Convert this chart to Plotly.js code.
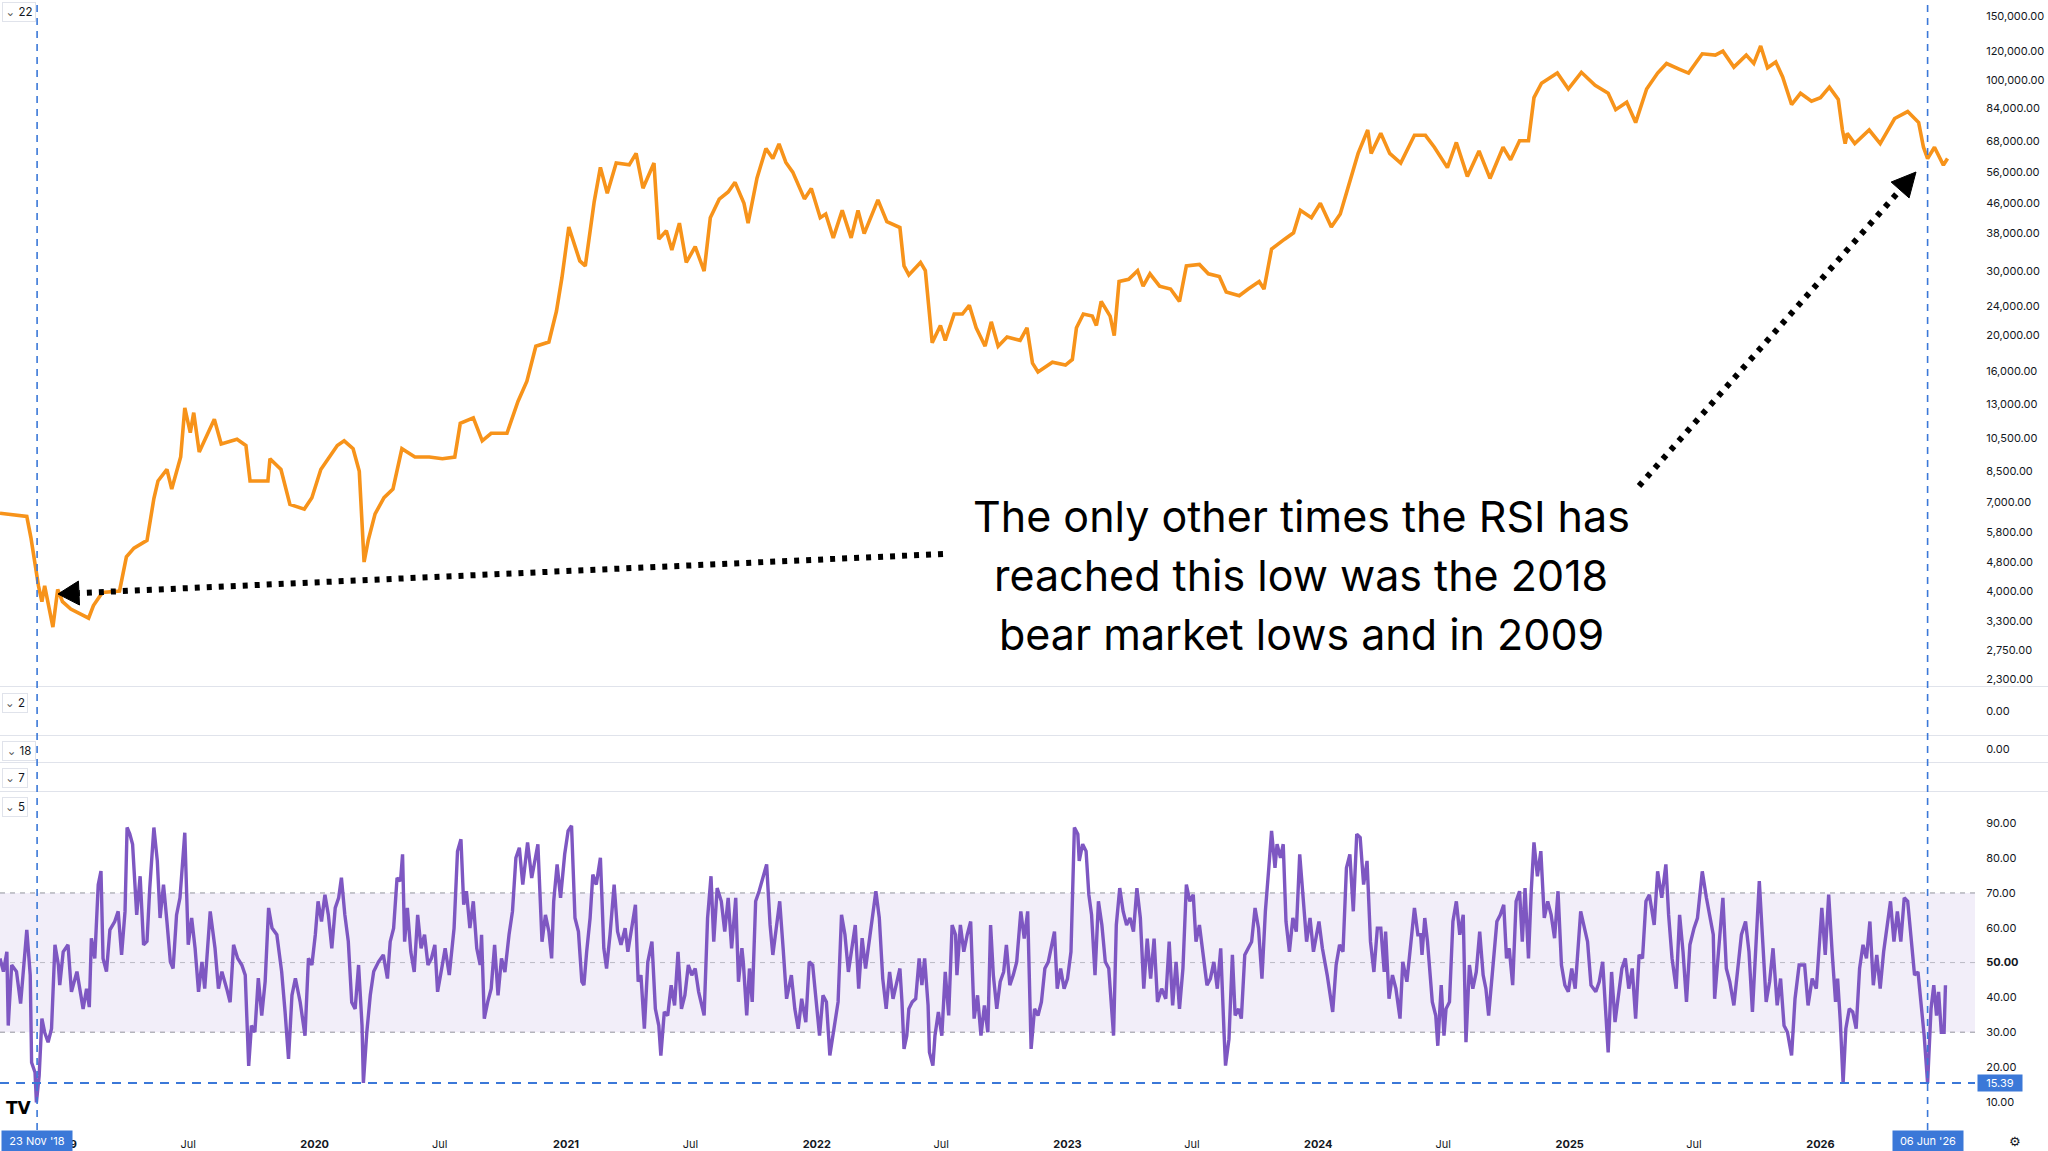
<!DOCTYPE html>
<html><head><meta charset="utf-8">
<script src="https://cdn.plot.ly/plotly-3.0.1.min.js"></script>
<style>html,body{margin:0;padding:0;background:#fff;overflow:hidden}#chart{width:2048px;height:1151px}</style>
</head><body><div id="chart"></div>
<script>
// ---------- DATA ----------
const priceDate = ['2018-09-30','2018-11-08','2018-11-14','2018-11-21','2018-11-25','2018-11-30','2018-12-04','2018-12-16','2018-12-23','2018-12-30',
'2019-01-11','2019-02-06','2019-02-13','2019-02-26','2019-03-23','2019-04-02','2019-04-13','2019-05-02','2019-05-12','2019-05-18','2019-05-31','2019-06-07','2019-06-20','2019-06-26','2019-07-04','2019-07-09','2019-07-17','2019-08-08','2019-08-18','2019-09-10','2019-09-23','2019-09-29','2019-10-25','2019-10-28','2019-11-13','2019-11-26','2019-12-17','2019-12-28',
'2020-01-10','2020-02-03','2020-02-13','2020-02-26','2020-03-06','2020-03-13','2020-03-19','2020-03-29','2020-04-11','2020-04-24','2020-05-07','2020-05-26','2020-06-16','2020-07-05','2020-07-23','2020-07-31','2020-08-19','2020-09-01','2020-09-14','2020-10-07','2020-10-23','2020-11-05','2020-11-18','2020-12-07','2020-12-18','2020-12-26',
'2021-01-05','2021-01-21','2021-01-29','2021-02-11','2021-02-20','2021-03-02','2021-03-15','2021-04-03','2021-04-13','2021-04-23','2021-05-09','2021-05-16','2021-05-27','2021-06-04','2021-06-15','2021-06-25','2021-07-08','2021-07-21','2021-07-30','2021-08-12','2021-08-25','2021-09-04','2021-09-17','2021-09-23','2021-10-06','2021-10-19','2021-10-29','2021-11-07','2021-11-17','2021-11-27','2021-12-08','2021-12-14','2021-12-24',
'2022-01-06','2022-01-14','2022-01-25','2022-02-07','2022-02-20','2022-03-02','2022-03-11','2022-03-31','2022-04-13','2022-05-02','2022-05-08','2022-05-15','2022-06-01','2022-06-08','2022-06-14','2022-06-18','2022-06-30','2022-07-07','2022-07-20','2022-08-01','2022-08-11','2022-08-21','2022-09-03','2022-09-12','2022-09-22','2022-10-05','2022-10-24','2022-11-03','2022-11-11','2022-11-19','2022-12-10','2022-12-29',
'2023-01-08','2023-01-14','2023-01-24','2023-02-06','2023-02-12','2023-02-19','2023-03-04','2023-03-10','2023-03-17','2023-03-31','2023-04-13','2023-04-21','2023-05-01','2023-05-15','2023-05-31','2023-06-13','2023-06-23','2023-07-12','2023-07-25','2023-08-10','2023-08-20','2023-09-08','2023-09-21','2023-10-07','2023-10-14','2023-10-25','2023-11-13','2023-11-26','2023-12-06','2023-12-22',
'2024-01-04','2024-01-20','2024-02-02','2024-02-15','2024-02-28','2024-03-13','2024-03-18','2024-04-01','2024-04-14','2024-04-30','2024-05-20','2024-06-05','2024-06-18','2024-07-07','2024-07-20','2024-08-05','2024-08-22','2024-09-07','2024-09-26','2024-10-07','2024-10-20','2024-11-02','2024-11-10','2024-11-21','2024-12-14','2024-12-30',
'2025-01-18','2025-02-07','2025-02-26','2025-03-09','2025-03-25','2025-04-07','2025-04-23','2025-05-09','2025-05-22','2025-06-10','2025-06-23','2025-07-13','2025-08-01','2025-08-12','2025-08-28','2025-09-15','2025-09-26','2025-10-06','2025-10-16','2025-10-28','2025-11-07','2025-11-20','2025-12-03','2025-12-19',
'2026-01-01','2026-01-14','2026-01-27','2026-02-02','2026-02-06','2026-02-09','2026-02-20','2026-03-13','2026-03-29','2026-04-19','2026-05-08','2026-05-24','2026-05-31','2026-06-06','2026-06-16','2026-06-29','2026-07-05'];
const priceValue = [6530,6400,5600,4500,4130,3740,4130,3185,4040,3740,
3570,3370,3650,3960,4000,4960,5240,5500,7160,8000,8600,7600,9300,12670,10850,12300,9600,11800,10100,10400,10000,8000,8000,9200,8600,6900,6700,7200,
8600,10000,10300,9800,8500,4800,5500,6500,7200,7600,9800,9300,9300,9200,9300,11500,11900,10300,10800,10800,13200,15000,18700,19200,23300,28800,
39600,32000,31000,46500,57700,49000,59300,58600,63000,50600,59300,36700,38700,34300,40600,31700,35000,30000,42000,47200,49400,52500,46000,40600,54000,65000,61000,66900,59500,56000,50500,47300,50500,
42000,43000,37000,44000,37000,44000,38000,47000,41000,39500,31000,29300,31700,30100,22600,19100,21300,19400,22900,22900,24200,21000,18700,21800,18700,19800,19400,21000,16800,15900,16900,16600,
17200,21000,22900,22600,21300,24800,22600,20000,28100,28500,30100,27300,29500,27300,26800,24800,31000,31300,29500,29000,26300,25700,26800,28100,26800,34500,36700,38200,44000,42000,
46000,39600,43000,52000,63000,73000,63000,71500,63000,59300,70600,70600,65500,57600,67500,54500,64000,53800,65500,60500,68200,68200,89500,98000,104500,94500,
105000,96700,92000,83000,87000,76500,94500,104500,111000,107000,104500,118000,117000,120000,108500,117000,111000,124000,108000,112000,102000,85700,92000,87500,
89500,95600,88500,73000,67000,71500,67000,73000,67000,78500,82000,76500,65500,61000,65500,58500,61000];

const rsiBaseDate = '2019-01-01'; // rsiDay = days counted from this date
const rsiDay = [-93,-88,-83,-81,-76,-69,-63,-59,-54,-49,-47,-42,-40,-36,-32,-28,-23,-18,-13,-8,-6,-1,
6,11,19,28,33,37,40,45,50,54,57,62,67,74,79,84,89,92,96,100,104,106,111,116,121,125,131,136,140,145,150,155,159,164,169,173,176,181,186,191,196,201,205,213,220,225,230,237,242,247,253,259,264,269,273,278,283,288,293,298,303,310,317,322,327,332,337,344,351,356,361,
366,370,375,380,385,390,395,400,404,409,414,419,424,429,434,436,441,446,451,458,
465,471,475,480,485,490,493,496,500,505,510,515,520,525,530,535,540,544,550,555,561,568,573,578,582,586,591,596,601,606,608,612,617,622,627,632,637,642,648,653,658,663,668,675,681,686,690,696,701,706,710,713,718,723,729,
734,739,744,749,754,757,761,766,770,775,781,786,790,795,801,806,811,817,821,827,832,836,840,845,850,856,861,866,869,874,879,884,889,894,899,904,909,914,919,924,932,937,942,946,951,957,962,967,972,978,982,987,989,994,998,1002,1007,1012,1017,1023,1028,1032,1037,1042,1047,1052,1059,1064,1069,1074,1080,1085,1090,
1095,1100,1105,1110,1115,1120,1127,1132,1137,1142,1147,1152,1157,1162,1167,1172,1177,1182,1187,1192,1197,1202,1207,1212,
1217,1220,1223,1227,1230,1235,1240,1245,1249,1253,1258,1260,1265,1268,1273,1278,1283,1288,1293,1298,1300,1305,1310,1315,1320,1325,1330,1335,1340,1345,1349,1353,1358,1363,1368,1372,1377,1382,1387,1393,1398,1403,1408,1413,1418,1423,1428,1433,1442,1446,1451,1456,
1461,1466,1471,1476,1478,1483,1488,1492,1496,1501,1506,1511,1516,1521,1528,1532,1537,1542,1547,1552,1557,1562,1567,1572,1577,1582,1587,1592,1598,1604,1609,1614,1619,1624,1629,1634,1639,1644,1648,1653,1659,1664,1669,1674,1679,1684,1689,1691,1696,1701,1705,1710,1714,1719,1724,1729,1734,1739,1744,1749,1754,1758,1763,1766,1771,1775,1779,1784,1789,1794,1799,1804,1809,1814,1819,
1827,1832,1839,1847,1852,1857,1862,1867,1872,1877,1882,1887,1892,1897,1902,1907,1912,1917,1922,1924,1929,1934,1939,1945,1949,1955,1960,1966,1971,
1975,1977,1981,1985,1989,1992,1997,2000,2005,2009,2012,2017,2022,2027,2032,2037,2041,2046,2051,2056,2061,2066,2070,2074,2080,2086,2091,2096,2100,2104,2109,2114,2119,2123,2127,2132,2136,2140,2145,2150,2155,2160,2165,2170,2175,2180,2185,2190,
2195,2200,2208,2213,2218,2223,2230,2235,2240,2248,2253,2258,2263,2268,2273,2278,2283,2288,2293,2298,2303,2308,2315,2320,2326,2332,2336,2341,2347,2352,2357,2362,2367,2373,2378,2385,2391,2396,2401,2403,2410,2415,2420,2425,2431,2436,2442,2448,2453,2458,2463,2468,2473,2478,2483,2488,2494,2499,2504,2509,2515,2520,2526,2534,2539,2545,2551,
2559,2564,2569,2574,2579,2582,2586,2590,2594,2599,2604,2609,2614,2619,2624,2629,2634,2639,2644,2649,2654,2659,2664,2669,2674,2679,2684,2689,2694,2699,2704,2708,2713,2716,2718,2722,2726,2729,2733,2737,2739];
const rsiValue = [51.2,47.4,53.1,31.9,49.3,47.4,38.2,47.4,59.4,46.4,21.3,18.4,9.8,17.5,33.9,30.0,27.1,31.0,55.1,49.3,43.5,53.1,
55.1,41.6,47.4,36.7,42.5,37.2,57.0,51.2,72.4,76.3,51.2,47.4,59.4,61.8,64.7,52.2,64.7,88.8,86.9,84.0,67.6,63.7,74.8,55.1,56.1,71.4,88.8,79.2,62.8,72.4,61.8,50.2,48.3,63.7,68.6,78.2,87.3,55.1,62.8,54.1,41.6,50.2,42.5,64.7,54.1,42.5,47.4,42.5,38.6,55.1,51.2,49.3,46.4,20.3,31.9,30.0,45.5,34.8,44.6,65.7,59.9,58.0,47.4,35.8,22.3,40.6,45.5,38.6,29.0,51.2,49.3,
58.0,67.6,61.8,69.5,63.7,54.1,65.7,68.6,74.4,63.7,56.1,38.6,36.7,49.3,31.9,15.4,30.0,40.6,47.4,50.2,
52.2,45.4,56.0,59.9,74.3,73.4,81.1,56.0,65.7,53.1,47.3,63.7,54.1,58.0,49.3,51.2,55.1,41.6,48.3,54.1,46.4,59.9,82.0,85.4,66.6,70.5,59.9,67.6,54.1,49.3,58.0,33.9,38.7,42.5,55.1,40.6,51.2,47.3,58.0,64.7,80.1,83.0,72.4,84.5,74.3,80.1,84.0,56.0,63.7,58.9,51.2,67.6,78.2,68.6,81.1,
87.8,89.3,62.8,58.9,44.5,43.5,53.1,62.8,75.3,72.4,80.1,54.1,48.3,58.0,72.4,58.9,55.1,59.9,53.1,60.8,66.6,44.5,46.4,31.0,50.2,56.0,36.7,31.9,23.3,35.8,34.8,43.5,37.7,53.1,36.7,40.6,49.3,46.4,48.3,41.6,34.8,62.8,74.8,56.0,71.4,67.6,58.9,68.6,54.1,68.6,44.5,54.1,50.2,34.8,48.3,38.7,67.6,70.5,74.3,78.2,60.8,52.2,59.9,67.6,54.1,39.6,46.4,36.7,31.0,39.6,32.9,50.2,49.3,
38.7,29.0,40.6,38.7,23.3,30.0,38.7,63.7,58.0,47.3,54.1,60.8,42.5,57.0,48.3,56.0,61.8,70.5,62.8,45.4,36.7,47.3,39.6,44.5,
48.3,38.7,25.2,29.0,36.7,38.7,39.6,51.2,43.5,51.2,37.7,24.2,20.4,29.0,35.8,29.0,47.3,34.8,60.8,58.0,46.4,60.8,53.1,58.0,61.8,33.9,40.6,29.0,37.7,30.0,60.8,46.4,36.7,44.5,47.3,55.1,43.5,46.4,50.2,64.7,56.9,64.7,25.2,36.7,34.8,38.7,48.3,50.2,58.9,42.5,48.3,42.5,
45.4,53.1,88.8,86.9,79.2,84.0,82.0,69.5,63.7,46.4,67.6,60.8,50.2,48.3,29.0,60.8,71.4,64.7,60.8,62.8,58.9,71.4,62.8,42.5,56.9,45.4,56.9,38.7,42.5,39.6,56.0,37.7,50.2,36.7,48.3,72.4,67.6,69.5,56.0,60.8,51.2,43.5,45.4,50.2,42.5,54.1,29.0,20.4,28.0,52.2,34.8,36.7,33.9,52.2,54.1,56.0,65.7,59.9,45.4,64.7,77.2,87.8,77.2,84.0,80.1,84.0,61.8,53.1,62.8,58.9,81.1,67.6,56.0,62.8,53.1,
61.8,54.1,46.4,35.8,49.3,55.1,53.1,77.2,81.1,64.7,86.9,85.9,72.4,79.2,56.0,47.3,59.9,59.9,47.3,58.9,39.6,46.4,42.5,33.9,50.2,44.5,54.1,65.7,58.0,
58.0,52.2,62.8,56.0,44.5,38.7,34.8,26.1,43.5,29.0,36.7,38.7,61.8,67.6,58.0,63.7,27.1,49.3,42.5,47.3,58.9,46.4,42.5,34.8,48.3,61.8,63.7,66.6,51.2,54.1,43.5,67.6,70.5,56.0,71.4,51.2,70.5,84.5,74.8,82.0,62.8,67.6,63.7,57.0,70.5,49.3,43.5,41.6,
48.3,42.5,64.7,59.9,56.0,43.5,41.6,44.5,50.2,24.2,47.3,32.9,40.6,48.3,51.2,42.5,48.3,33.9,52.2,51.2,67.6,69.5,60.8,76.2,68.6,78.2,63.7,51.2,42.5,63.7,53.1,38.7,55.1,59.9,62.8,76.2,68.6,63.7,58.0,39.6,56.0,68.6,48.3,44.5,37.7,46.4,58.0,61.8,53.1,35.8,56.0,73.4,56.0,38.7,44.5,54.1,37.7,45.4,31.9,30.0,23.3,39.6,49.3,49.3,37.7,45.4,42.5,
65.7,52.2,69.5,53.1,38.7,45.4,32.9,15.39,31.0,36.7,35.8,31.0,48.3,55.1,51.2,61.8,43.5,52.2,42.5,53.1,59.9,67.6,56.0,64.7,56.0,68.6,67.6,58.0,46.4,47.3,36.7,29.0,15.39,27.1,36.7,43.5,34.8,41.6,30.0,30.0,43.5];

const priceTicks = [2300,2750,3300,4000,4800,5800,7000,8500,10500,13000,16000,20000,24000,30000,38000,46000,56000,68000,84000,100000,120000,150000];
const rsiTicks = [10,20,30,40,50,60,70,80,90];
const rsiBands = [30,50,70];
const timeTickDates = ['2019-01-01','2019-07-01','2020-01-01','2020-07-01','2021-01-01','2021-07-01','2022-01-01','2022-07-01','2023-01-01','2023-07-01','2024-01-01','2024-07-01','2025-01-01','2025-07-01','2026-01-01'];
const timeTickLabels = ['2019','Jul','2020','Jul','2021','Jul','2022','Jul','2023','Jul','2024','Jul','2025','Jul','2026'];
const markDates = ['2018-11-23','2026-06-06'];
const markLabels = ["23 Nov '18","06 Jun '26"];
const rsiMark = 15.39;
const paneLabels = ['22','2','18','7','5'];
const noteLines = ['The only other times the RSI has','reached this low was the 2018','bear market lows and in 2009'];

// ---------- BUILD ----------
const base = Date.parse(rsiBaseDate + 'T00:00:00Z');
const rsiDate = rsiDay.map(d => new Date(base + d * 86400000).toISOString().slice(0, 10));

const W = 2048, H = 1151, MR = 73, MB = 21;
const PW = W - MR, PH = H - MB;
const px = X => X / PW;             // pixel -> paper (x)
const py = Y => (PH - Y) / PH;      // pixel -> paper (y)

const FONT = 'Inter, Roboto, "Liberation Sans", sans-serif';
const TXT = '#131722';
const BLUE = '#3b78d8';
const SEP = '#e0e3eb';

const traces = [
  {x: priceDate, y: priceValue, type: 'scatter', mode: 'lines', xaxis: 'x', yaxis: 'y',
   line: {color: '#f7931a', width: 3.6, shape: 'linear'}, hoverinfo: 'skip'},
  {x: rsiDate, y: rsiValue, type: 'scatter', mode: 'lines', xaxis: 'x', yaxis: 'y5',
   line: {color: '#7e57c2', width: 3.4}, hoverinfo: 'skip'},
  {x: [], y: [], type: 'scatter', mode: 'lines', xaxis: 'x', yaxis: 'y2'},
  {x: [], y: [], type: 'scatter', mode: 'lines', xaxis: 'x', yaxis: 'y3'},
  {x: [], y: [], type: 'scatter', mode: 'lines', xaxis: 'x', yaxis: 'y4'}
];

const yCommon = {side: 'right', anchor: 'x', showgrid: false, zeroline: false, showline: false,
  ticks: 'outside', ticklen: 8, tickcolor: 'rgba(0,0,0,0)', fixedrange: true,
  tickfont: {family: FONT, size: 11, color: TXT}};

const shapes = [];
// pane separators
[686.5, 735.5, 762.5, 791.5].forEach(Y => shapes.push({type: 'line', xref: 'paper', yref: 'paper',
  x0: 0, x1: W / PW, y0: py(Y), y1: py(Y), line: {color: SEP, width: 1}}));
// RSI band + levels
shapes.push({type: 'rect', xref: 'paper', yref: 'y5', x0: 0, x1: 1, y0: rsiBands[0], y1: rsiBands[2],
  fillcolor: 'rgba(126,87,194,0.1)', line: {width: 0}, layer: 'below'});
rsiBands.forEach((v, i) => shapes.push({type: 'line', xref: 'paper', yref: 'y5', x0: 0, x1: 1, y0: v, y1: v,
  line: {color: i === 1 ? 'rgba(120,123,134,0.45)' : 'rgba(120,123,134,0.8)', width: 1, dash: '5px,5px'}, layer: 'below'}));
// crosshair markers
markDates.forEach(d => shapes.push({type: 'line', xref: 'x', yref: 'paper', x0: d, x1: d, y0: 0, y1: 1,
  line: {color: BLUE, width: 1.6, dash: '7px,6px'}}));
shapes.push({type: 'line', xref: 'paper', yref: 'y5', x0: 0, x1: 1, y0: rsiMark, y1: rsiMark,
  line: {color: BLUE, width: 2, dash: '9px,7px'}});
// dotted arrows
function arrow(tail, tip, len, half) {
  const dx = tip[0] - tail[0], dy = tip[1] - tail[1];
  const L = Math.hypot(dx, dy), ux = dx / L, uy = dy / L;
  const bx = tip[0] - ux * len, by = tip[1] - uy * len;
  const nx = -uy * half, ny = ux * half;
  shapes.push({type: 'line', xref: 'paper', yref: 'paper', x0: px(tail[0]), y0: py(tail[1]), x1: px(bx), y1: py(by),
    line: {color: '#000', width: 6, dash: '5px,7px'}});
  shapes.push({type: 'path', xref: 'paper', yref: 'paper',
    path: `M ${px(tip[0])} ${py(tip[1])} L ${px(bx + nx)} ${py(by + ny)} L ${px(bx - nx)} ${py(by - ny)} Z`,
    fillcolor: '#000', line: {color: '#000', width: 1}});
}
arrow([943, 554], [58, 594], 21, 12);
arrow([1639, 486], [1916, 172], 24, 12);

const annotations = [];
const noteY = [516, 575, 634];
noteLines.forEach((t, i) => annotations.push({xref: 'paper', yref: 'paper', x: px(1301), y: py(noteY[i]), text: t,
  showarrow: false, align: 'center', xanchor: 'center', yanchor: 'middle',
  font: {family: 'Inter, "Noto Sans", sans-serif', size: 43, color: '#000'}}));
const paneY = [12, 703, 751, 778, 807];
paneLabels.forEach((t, i) => annotations.push({xref: 'paper', yref: 'paper', x: px(2), y: py(paneY[i]),
  xanchor: 'left', yanchor: 'middle', showarrow: false,
  text: '<span style="font-family:\'DejaVu Sans\';color:#555">⌄</span> ' + t,
  width: t.length > 1 ? 28 : 20, height: 14, align: 'center',
  font: {family: FONT, size: 11.5, color: TXT}, bgcolor: '#fff', bordercolor: SEP, borderwidth: 1, borderpad: 2}));
annotations.push({xref: 'paper', yref: 'y5', x: px(1977), y: rsiMark, xanchor: 'left', yanchor: 'middle',
  showarrow: false, text: rsiMark.toFixed(2), bgcolor: BLUE, borderpad: 2, width: 40, height: 12,
  font: {family: FONT, size: 11, color: '#fff'}});
markDates.forEach((d, i) => annotations.push({xref: 'x', yref: 'paper', x: d, y: py(1141), xanchor: 'center', yanchor: 'middle',
  showarrow: false, text: markLabels[i], bgcolor: BLUE, borderpad: 3, width: 64, height: 14,
  font: {family: FONT, size: 11, color: '#fff'}}));
annotations.push({xref: 'paper', yref: 'paper', x: px(4), y: py(1108), xanchor: 'left', yanchor: 'middle',
  showarrow: false, text: '<b>TV</b>', font: {family: '"DejaVu Sans", sans-serif', size: 17, color: '#000'}});
annotations.push({xref: 'paper', yref: 'paper', x: px(2015), y: py(1141), xanchor: 'center', yanchor: 'middle',
  showarrow: false, text: '⚙', font: {family: '"DejaVu Sans", sans-serif', size: 13, color: TXT}});

const layout = {
  width: W, height: H, margin: {l: 0, r: MR, t: 0, b: MB, pad: 0},
  paper_bgcolor: '#fff', plot_bgcolor: 'rgba(0,0,0,0)', showlegend: false,
  xaxis: {type: 'date', domain: [0, 1], anchor: 'y5', range: ['2018-09-30', '2026-08-14'],
    tickmode: 'array', tickvals: timeTickDates,
    ticktext: timeTickLabels.map(t => /^\d{4}$/.test(t) ? '<b>' + t + '</b>' : t),
    showgrid: false, zeroline: false, showline: false, ticks: 'outside', ticklen: 4, tickcolor: 'rgba(0,0,0,0)', fixedrange: true,
    tickfont: {family: FONT, size: 11, color: TXT}},
  yaxis: Object.assign({}, yCommon, {domain: [py(686), 1], type: 'log',
    range: [Math.log10(2198), Math.log10(165600)], tickmode: 'array', tickvals: priceTicks,
    ticktext: priceTicks.map(v => v.toLocaleString('en-US', {minimumFractionDigits: 2, maximumFractionDigits: 2}))}),
  yaxis2: Object.assign({}, yCommon, {domain: [py(735), py(687)], range: [-1, 1], tickmode: 'array', tickvals: [0], ticktext: ['0.00']}),
  yaxis3: Object.assign({}, yCommon, {domain: [py(762), py(736)], range: [-1, 1], tickmode: 'array', tickvals: [0], ticktext: ['0.00']}),
  yaxis4: Object.assign({}, yCommon, {domain: [py(791), py(763)], range: [-1, 1], showticklabels: false}),
  yaxis5: Object.assign({}, yCommon, {domain: [0, py(792)], range: [1.9, 99], tickmode: 'array', tickvals: rsiTicks,
    ticktext: rsiTicks.map(v => v === 50 ? '<b>' + v.toFixed(2) + '</b>' : v.toFixed(2))}),
  shapes: shapes, annotations: annotations
};

Plotly.newPlot('chart', traces, layout, {staticPlot: true, displayModeBar: false});
</script>
</body></html>
